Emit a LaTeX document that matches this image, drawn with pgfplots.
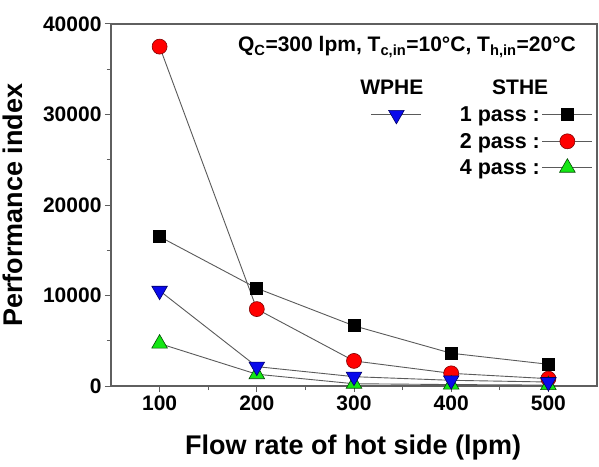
\documentclass[border=0pt]{standalone}
\usepackage{pgfplots}
\pgfplotsset{compat=1.18}
\usepackage{fontspec}
\setmainfont{Liberation Sans}
\definecolor{axisgray}{RGB}{95,95,95}
\definecolor{linegray}{RGB}{90,90,90}
\definecolor{mred}{RGB}{255,0,0}
\definecolor{mblue}{RGB}{10,10,235}
\definecolor{mgreen}{RGB}{20,230,20}
\begin{document}
\begin{tikzpicture}
\begin{axis}[
 scale only axis, width=486pt, height=362pt,
 xmin=50, xmax=550, ymin=0, ymax=40000,
 xtick={100,200,300,400,500}, minor x tick num=1,
 ytick={0,10000,20000,30000,40000}, minor y tick num=1,
 tick align=outside, xtick pos=bottom, ytick pos=left,
 major tick length=6pt, minor tick length=4pt,
 axis line style={draw=axisgray, line width=1.2pt},
 every tick/.style={draw=axisgray, line width=1pt},
 scaled y ticks=false,
 /pgf/number format/assume math mode=true,
 /pgf/number format/1000 sep={},
 tick label style={font=\fontsize{21}{21}\selectfont\bfseries},
 xlabel={Flow rate of hot side (lpm)}, ylabel={Performance index},
 label style={font=\fontsize{27}{27}\selectfont\bfseries},
 xlabel style={at={(axis description cs:0.498,-0.171)}, anchor=center},
 ylabel style={at={(axis description cs:-0.2016,0.5)}, anchor=center},
 legend columns=2,
 legend plot pos=right,
 legend image code/.code={\draw[mark repeat=2,mark phase=2,#1] plot coordinates {(0pt,0pt) (25pt,0pt) (50pt,0pt)};},
 legend style={draw=none, fill=none, font=\fontsize{21.5}{21.5}\selectfont\bfseries,
   at={(rel axis cs:0.998,0.783)}, anchor=north east, row sep=6pt,
   /tikz/every even column/.append style={column sep=36pt}},
]
\addplot[linegray, line width=0.9pt, mark=square*, mark size=6pt, mark options={fill=black, draw=black, solid}, forget plot]
 coordinates {(100,16500)(200,10800)(300,6650)(400,3620)(500,2400)};
\addplot[linegray, line width=0.9pt, mark=*, mark size=7.5pt, mark options={fill=mred, draw=red!50!black, line width=0.6pt, solid}, forget plot]
 coordinates {(100,37500)(200,8500)(300,2770)(400,1400)(500,810)};
\addplot[linegray, line width=0.9pt, mark=triangle*, mark size=9pt, mark options={fill=mgreen, draw=green!30!black, line width=0.6pt, solid}, forget plot]
 coordinates {(100,4690)(200,1300)(300,250)(400,160)(500,100)};
\addplot[linegray, line width=0.9pt, mark=triangle*, mark size=9pt, mark options={fill=mblue, draw=blue!40!black, line width=0.6pt, rotate=180, solid}, forget plot]
 coordinates {(100,10530)(200,2140)(300,1030)(400,630)(500,440)};

\addlegendimage{linegray, line width=0.9pt, mark=triangle*, mark size=9pt, mark options={fill=mblue, draw=blue!40!black, line width=0.6pt, rotate=180, solid}}
\addlegendentry{}
\addlegendimage{linegray, line width=0.9pt, mark=square*, mark size=6pt, mark options={fill=black, draw=black, solid}}
\addlegendentry{1 pass :}
\addlegendimage{empty legend}
\addlegendentry{}
\addlegendimage{linegray, line width=0.9pt, mark=*, mark size=7.5pt, mark options={fill=mred, draw=red!50!black, line width=0.6pt, solid}}
\addlegendentry{2 pass :}
\addlegendimage{empty legend}
\addlegendentry{}
\addlegendimage{linegray, line width=0.9pt, mark=triangle*, mark size=9pt, mark options={fill=mgreen, draw=green!30!black, line width=0.6pt, solid}}
\addlegendentry{4 pass :}

\node[font=\fontsize{21}{21}\selectfont\bfseries, anchor=center] at (rel axis cs:0.609,0.936)
 {Q\textsubscript{C}=300 lpm, T\textsubscript{c,in}=10°C, T\textsubscript{h,in}=20°C};
\node[font=\fontsize{21}{21}\selectfont\bfseries, anchor=center] at (rel axis cs:0.578,0.826) {WPHE};
\node[font=\fontsize{21}{21}\selectfont\bfseries, anchor=center] at (rel axis cs:0.842,0.826) {STHE};
\end{axis}
\pgfresetboundingbox
\useasboundingbox (-111pt,-80pt) rectangle (488pt,386pt);
\end{tikzpicture}
\end{document}
